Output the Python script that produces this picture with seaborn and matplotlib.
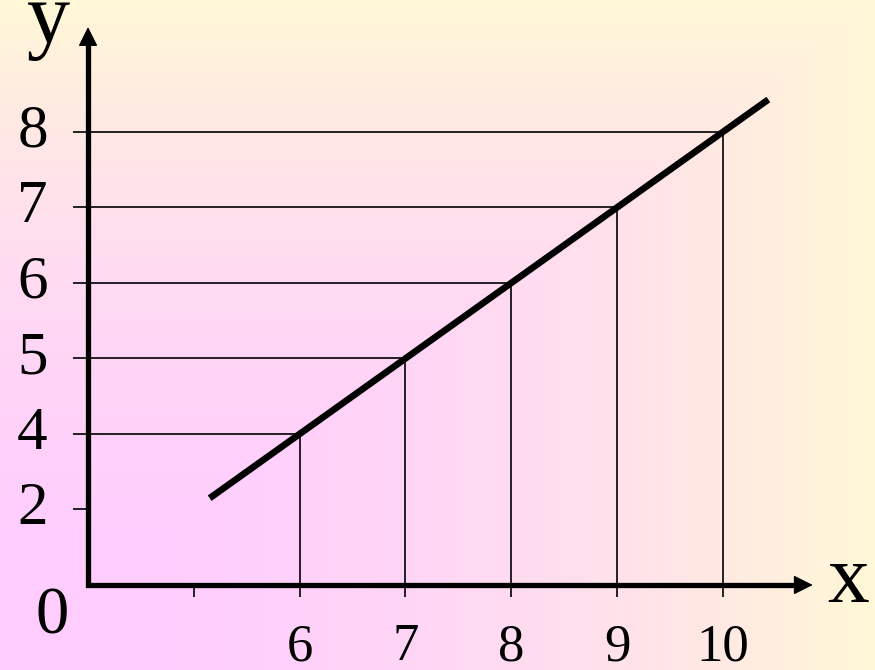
import numpy as np
import pandas as pd
import matplotlib
matplotlib.use("Agg")
import matplotlib.pyplot as plt
import seaborn as sns

sns.set_style("white")
plt.rcParams['font.family'] = ['Liberation Serif', 'DejaVu Serif']
plt.rcParams['text.color'] = 'black'

# points of the line y = x - 2 that get guide lines
x_vals = [6, 7, 8, 9, 10]
y_vals = [4, 5, 6, 7, 8]

# the drawn line segment (ends)
line_x = [5.15, 10.43]
line_y = [3.15, 8.43]

# axis ticks / labels (axes are "broken": 0 sits at the corner)
x_tick_pos = [5, 6, 7, 8, 9, 10]
x_tick_labels = ['', '6', '7', '8', '9', '10']
y_tick_pos = [3, 4, 5, 6, 7, 8]
y_tick_labels = ['2', '4', '5', '6', '7', '8']
x0, y0 = 4, 2          # where the axes cross
x_tip, y_tip = 10.85, 9.39

# background gradient colours (corner -> far edges)
c_start = np.array([255, 204, 255]) / 255
c_end = np.array([255, 248, 214]) / 255

fig = plt.figure(figsize=(8.75, 6.7), dpi=100)
ax = fig.add_axes([0, 0, 1, 1])
xlim = (3.168, 11.438)
ylim = (0.874, 9.748)

# rectangular gradient from the bottom-left corner
H, W = 335, 437
u = np.linspace(0, 1, W)[None, :]
v = np.linspace(1, 0, H)[:, None]
t = np.maximum(u, v) ** 2
img = c_start + (c_end - c_start) * t[..., None]
ax.imshow(img, extent=(*xlim, *ylim), aspect='auto', zorder=0, interpolation='bilinear')

tick_x = 15 / 105.8   # tick length in data units (left of y axis)
tick_y = 12 / 75.5    # tick length below x axis

# thin guide lines + ticks
for yp in y_tick_pos:
    end = x_vals[y_vals.index(yp)] if yp in y_vals else x0
    ax.hlines(yp, x0 - tick_x, end, color='black', lw=1.2, zorder=2)
for xp in x_tick_pos:
    end = y_vals[x_vals.index(xp)] if xp in x_vals else y0
    ax.vlines(xp, y0 - tick_y, end, color='black', lw=1.2, zorder=2)

# main line
df = pd.DataFrame({'x': line_x, 'y': line_y})
sns.lineplot(data=df, x='x', y='y', ax=ax, color='black', lw=4.8, zorder=4,
             solid_capstyle='butt')

# axes with arrows
ax.plot([x0, x0, x_tip - 0.15], [y_tip - 0.2, y0, y0], color='black', lw=3.8,
        solid_joinstyle='miter', solid_capstyle='butt', zorder=3)
arrow = dict(arrowstyle='-|>,head_length=0.6,head_width=0.3', mutation_scale=20,
             lw=1, color='black', shrinkA=0, shrinkB=0)
ax.annotate('', xy=(x0, y_tip), xytext=(x0, y_tip - 0.5), arrowprops=arrow, zorder=3)
ax.annotate('', xy=(x_tip, y0), xytext=(x_tip - 0.5, y0), arrowprops=arrow, zorder=3)

# labels
for yp, lab in zip(y_tick_pos, y_tick_labels):
    ax.text(x0 - 0.38, yp, lab, ha='right', va='center', fontsize=44)
for xp, lab in zip(x_tick_pos, x_tick_labels):
    ax.text(xp, y0 - 1.0, lab, ha='center', va='baseline', fontsize=38)
ax.text(x0 - 0.34, y0 - 0.636, '0', ha='center', va='baseline', fontsize=48)
ax.text(x0 - 0.37, 9.186, 'y', ha='center', va='baseline', fontsize=62)
ax.text(11.18, 1.775, 'x', ha='center', va='baseline', fontsize=60)

ax.set_xlim(*xlim)
ax.set_ylim(*ylim)
ax.set_axis_off()

plt.savefig('out.png', dpi=100)
plt.close()
